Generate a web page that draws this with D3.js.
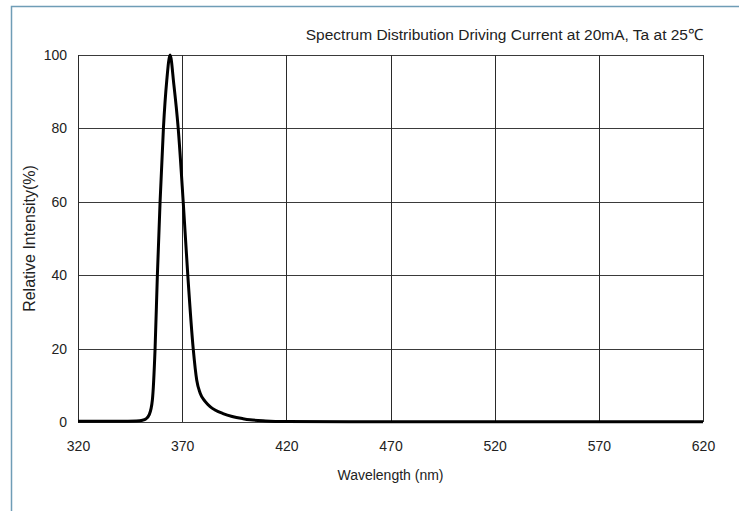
<!DOCTYPE html>
<html>
<head>
<meta charset="utf-8">
<script src="https://cdn.jsdelivr.net/npm/d3@7"></script>
<style>
  body { margin: 0; background: #fff; }
  text { font-family: "Liberation Sans", Arial, sans-serif; fill: #222; }
</style>
</head>
<body>
<div id="holder"></div>
<script>
// values
const wavelength = [320, 330, 340, 348, 351, 352.5, 354.2, 355.7, 357, 358.1, 359.4, 361, 362.6, 364.2, 366, 368.1, 370.5, 372.7, 375.3, 377, 378.6, 381, 383.4, 386, 389.6, 394, 399.2, 402.6, 410, 420, 450, 500, 550, 600, 620];
const intensity = [0.2, 0.2, 0.2, 0.3, 0.5, 0.8, 2, 6, 20, 40, 60, 80, 93, 100, 92, 80, 60, 40, 20, 11.4, 7.9, 5.6, 4.2, 3.2, 2.3, 1.5, 0.9, 0.6, 0.3, 0.15, 0.1, 0.1, 0.1, 0.1, 0.1];
const xTicks = [320, 370, 420, 470, 520, 570, 620];
const yTicks = [0, 20, 40, 60, 80, 100];

const width = 739;
const height = 511;
const plotLeft = 78, plotRight = 703, plotTop = 55, plotBottom = 422;

const svg = d3.select("#holder")
    .append("svg")
    .attr("width", width)
    .attr("height", height);

// outer frame
svg.append("rect")
    .attr("x", 11.5)
    .attr("y", 6.5)
    .attr("width", 800)
    .attr("height", 600)
    .attr("fill", "none")
    .attr("stroke", "#6f9db6")
    .attr("stroke-width", 1.5);

const xScale = d3.scaleLinear().domain([320, 620]).range([plotLeft, plotRight]);
const yScale = d3.scaleLinear().domain([0, 100]).range([plotBottom, plotTop]);

// grid
svg.append("g")
    .selectAll("line")
    .data(yTicks)
    .enter()
    .append("line")
    .attr("x1", plotLeft)
    .attr("x2", plotRight)
    .attr("y1", (d) => Math.round(yScale(d)) + 0.5)
    .attr("y2", (d) => Math.round(yScale(d)) + 0.5)
    .attr("stroke", "#3a3a3a")
    .attr("stroke-width", 1);

svg.append("g")
    .selectAll("line")
    .data(xTicks)
    .enter()
    .append("line")
    .attr("x1", (d) => Math.round(xScale(d)) + 0.5)
    .attr("x2", (d) => Math.round(xScale(d)) + 0.5)
    .attr("y1", plotTop)
    .attr("y2", plotBottom)
    .attr("stroke", "#2a2a2a")
    .attr("stroke-width", 1);

// axes (labels only, no tick marks)
const xAxis = d3.axisBottom(xScale).tickValues(xTicks).tickSize(0).tickPadding(19);
const yAxis = d3.axisLeft(yScale).tickValues(yTicks).tickSize(0).tickPadding(11);

svg.append("g")
    .attr("transform", `translate(0, ${plotBottom})`)
    .call(xAxis)
    .call((g) => g.select(".domain").remove())
    .selectAll("text")
    .style("font-size", "14px")
    .style("font-family", "Liberation Sans, Arial, sans-serif")
    .attr("fill", "#222");

svg.append("g")
    .attr("transform", `translate(${plotLeft}, 0)`)
    .call(yAxis)
    .call((g) => g.select(".domain").remove())
    .selectAll("text")
    .style("font-size", "14px")
    .style("font-family", "Liberation Sans, Arial, sans-serif")
    .attr("fill", "#222");

// spectrum curve
const line = d3.line()
    .x((d, i) => xScale(wavelength[i]))
    .y((d) => yScale(d))
    .curve(d3.curveMonotoneX);

svg.append("path")
    .datum(intensity)
    .attr("d", line)
    .attr("fill", "none")
    .attr("stroke", "#000")
    .attr("stroke-width", 3)
    .attr("stroke-linejoin", "round");

// titles
svg.append("text")
    .attr("x", plotRight)
    .attr("y", 40)
    .attr("text-anchor", "end")
    .style("font-size", "15.5px")
    .text("Spectrum Distribution Driving Current at 20mA, Ta at 25℃");

svg.append("text")
    .attr("x", (plotLeft + plotRight) / 2)
    .attr("y", 480)
    .attr("text-anchor", "middle")
    .style("font-size", "14px")
    .text("Wavelength (nm)");

svg.append("text")
    .attr("x", 35)
    .attr("y", (plotTop + plotBottom) / 2)
    .attr("transform", `rotate(-90, 35, ${(plotTop + plotBottom) / 2})`)
    .attr("text-anchor", "middle")
    .style("font-size", "16px")
    .text("Relative Intensity(%)");
</script>
</body>
</html>
